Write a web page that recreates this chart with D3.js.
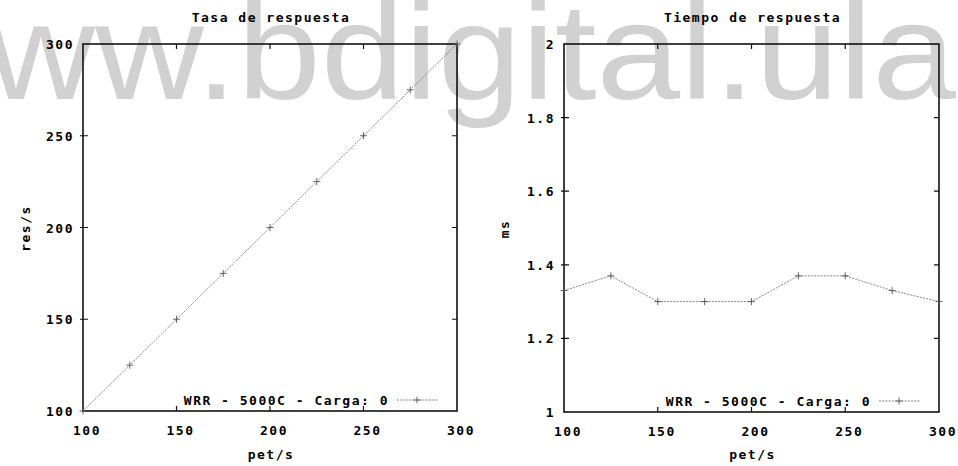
<!DOCTYPE html>
<html>
<head>
<meta charset="utf-8">
<script src="https://cdn.jsdelivr.net/npm/d3@7"></script>
<style>
  html, body { margin: 0; padding: 0; background: #fff; }
  svg { display: block; }
  .gp { font-family: "DejaVu Sans Mono", monospace; font-weight: bold; font-size: 13px; letter-spacing: 1.5px; fill: #000; }
</style>
</head>
<body>
<div id="chart"></div>
<script>
// peticiones por segundo (eje x de ambas gráficas)
const petS = [100, 125, 150, 175, 200, 225, 250, 275, 300];
// tasa de respuesta, res/s
const resS = [100, 125, 150, 175, 200, 225, 250, 275, 300];
// tiempo de respuesta, ms
const tiempoMs = [1.33, 1.37, 1.3, 1.3, 1.3, 1.37, 1.37, 1.33, 1.3];

// tick labels
const xTicks = [100, 150, 200, 250, 300];
const resTicks = [100, 150, 200, 250, 300];
const msTicks = [1, 1.2, 1.4, 1.6, 1.8, 2];

const seriesName = "WRR - 5000C - Carga: 0";
const watermark = "www.bdigital.ula";

const charts = {
  init() {
    const width = 958;
    const height = 466;

    this.svg = d3
      .select("#chart")
      .append("svg")
      .attr("width", width)
      .attr("height", height);

    this.svg.append("rect").attr("width", width).attr("height", height).attr("fill", "#fff");

    // scanned watermark behind everything
    this.svg
      .append("text")
      .attr("x", -122)
      .attr("y", 99)
      .attr("textLength", 1078)
      .attr("lengthAdjust", "spacingAndGlyphs")
      .style("font-family", "'Liberation Sans', Arial, sans-serif")
      .style("font-size", "138px")
      .attr("fill", "#d1d1d1")
      .text(watermark);

    this.drawPanel({
      box: { left: 83, right: 457, top: 44, bottom: 411 },
      title: "Tasa de respuesta",
      ylabel: "res/s",
      ylabelX: 26,
      yDomain: [100, 300],
      yTicks: resTicks,
      yFormat: d3.format("d"),
      values: resS
    });

    this.drawPanel({
      box: { left: 564, right: 939, top: 44, bottom: 412 },
      title: "Tiempo de respuesta",
      ylabel: "ms",
      ylabelX: 505,
      yDomain: [1, 2],
      yTicks: msTicks,
      yFormat: d => (Number.isInteger(d) ? String(d) : d3.format(".1f")(d)),
      values: tiempoMs
    });
  },

  drawPanel(cfg) {
    const { box } = cfg;
    const g = this.svg.append("g");

    const x = d3.scaleLinear().domain([100, 300]).range([box.left, box.right]);
    const y = d3.scaleLinear().domain(cfg.yDomain).range([box.bottom, box.top]);
    const tickLen = 5;

    // border
    g.append("rect")
      .attr("x", box.left)
      .attr("y", box.top)
      .attr("width", box.right - box.left)
      .attr("height", box.bottom - box.top)
      .attr("fill", "none")
      .attr("stroke", "#111")
      .attr("stroke-width", 1.6);

    // inward ticks on all four sides (gnuplot mirror)
    const inner = xTicks.slice(1, -1);
    g.selectAll(".xt")
      .data(inner)
      .enter()
      .append("path")
      .attr("d", d => `M${x(d)},${box.bottom}v${-tickLen}M${x(d)},${box.top}v${tickLen}`)
      .attr("stroke", "#111")
      .attr("stroke-width", 1.2);

    g.selectAll(".yt")
      .data(cfg.yTicks.slice(1, -1))
      .enter()
      .append("path")
      .attr("d", d => `M${box.left - 3},${y(d)}h${tickLen + 3}M${box.right},${y(d)}h${-tickLen}`)
      .attr("stroke", "#111")
      .attr("stroke-width", 1.2);

    // tick labels
    g.selectAll(".xl")
      .data(xTicks)
      .enter()
      .append("text")
      .attr("class", "gp")
      .attr("x", d => x(d) + 4)
      .attr("y", box.bottom + 24)
      .attr("text-anchor", "middle")
      .text(d => d);

    g.selectAll(".yl")
      .data(cfg.yTicks)
      .enter()
      .append("text")
      .attr("class", "gp")
      .attr("x", box.left - 9)
      .attr("y", d => y(d) + 5)
      .attr("text-anchor", "end")
      .text(cfg.yFormat);

    // titles
    const cx = (box.left + box.right) / 2;
    g.append("text")
      .attr("class", "gp")
      .attr("x", cx + 1)
      .attr("y", 22)
      .attr("text-anchor", "middle")
      .text(cfg.title);

    g.append("text")
      .attr("class", "gp")
      .attr("x", cx + 1)
      .attr("y", 459)
      .attr("text-anchor", "middle")
      .text("pet/s");

    g.append("text")
      .attr("class", "gp")
      .attr("transform", `translate(${cfg.ylabelX + 4},${(box.top + box.bottom) / 2 + 1}) rotate(-90)`)
      .attr("text-anchor", "middle")
      .text(cfg.ylabel);

    // data line + "+" points
    const line = d3
      .line()
      .x((d, i) => x(petS[i]))
      .y(d => y(d));

    g.append("path")
      .datum(cfg.values)
      .attr("d", line)
      .attr("fill", "none")
      .attr("stroke", "#666")
      .attr("stroke-width", 0.8)
      .attr("stroke-dasharray", "2,1.2");

    const plus = (px, py) => `M${px - 3.5},${py}h7M${px},${py - 3.5}v7`;

    g.selectAll(".pt")
      .data(cfg.values)
      .enter()
      .append("path")
      .attr("d", (d, i) => plus(x(petS[i]), y(d)))
      .attr("stroke", "#555")
      .attr("stroke-width", 0.9);

    // legend, bottom right corner
    const ly = box.bottom - 11;
    g.append("text")
      .attr("class", "gp")
      .attr("x", box.right - 68)
      .attr("y", ly + 5)
      .attr("text-anchor", "end")
      .text(seriesName);

    g.append("path")
      .attr("d", `M${box.right - 60},${ly}H${box.right - 19}`)
      .attr("stroke", "#666")
      .attr("stroke-width", 0.8)
      .attr("stroke-dasharray", "2,1.2");

    g.append("path")
      .attr("d", plus(box.right - 40, ly))
      .attr("stroke", "#555")
      .attr("stroke-width", 0.9);
  }
};

charts.init();
</script>
</body>
</html>
